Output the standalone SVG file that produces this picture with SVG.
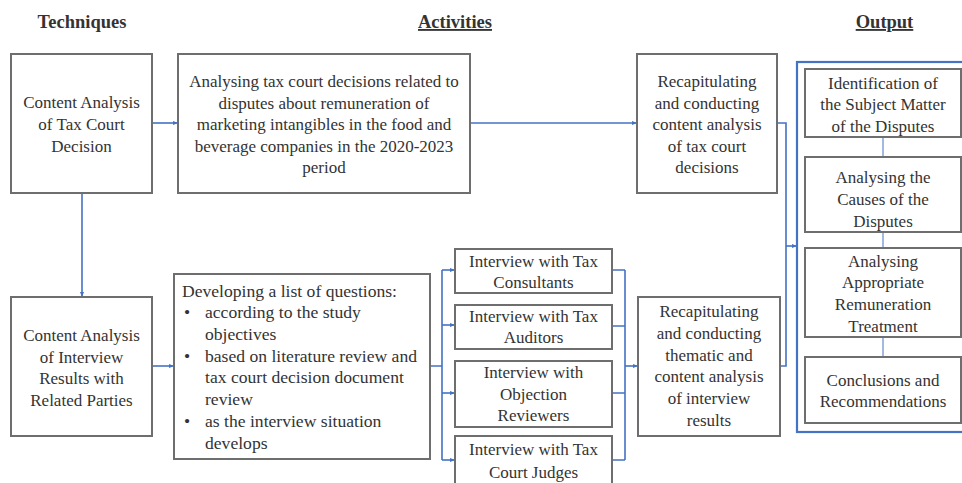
<svg xmlns="http://www.w3.org/2000/svg" width="962" height="483" viewBox="0 0 962 483" font-family="Liberation Serif">
<defs>
<marker id="ah" viewBox="0 0 10 10" refX="10" refY="5" markerWidth="5" markerHeight="5" orient="auto" markerUnits="userSpaceOnUse">
<path d="M0,1 L10,5 L0,9 z" fill="#4472c4"/>
</marker>
<style>
.box{fill:#fff;stroke:#6e6e6e;stroke-width:2}
.lbl{font-family:'Liberation Serif',serif;font-size:17px;fill:#333;text-anchor:middle}
.lft{font-family:'Liberation Serif',serif;font-size:17.6px;fill:#333}
.hdr{font-family:'Liberation Serif',serif;font-size:18.5px;font-weight:bold;fill:#333;text-anchor:middle}
.c{fill:none;stroke:#4472c4;stroke-width:1.6}
.ca{fill:none;stroke:#4472c4;stroke-width:1.6;marker-end:url(#ah)}
.thin{fill:none;stroke:#4472c4;stroke-width:1}
.cont{fill:none;stroke:#4472c4;stroke-width:2.2}
</style>
</defs>
<rect width="962" height="483" fill="#fff"/>

<g id="headers">
<text class="hdr" x="82" y="28">Techniques</text>
<text class="hdr" x="455" y="28" text-decoration="underline">Activities</text>
<text class="hdr" x="884.5" y="28" text-decoration="underline">Output</text>
</g>

<g id="connectors">
<path class="ca" d="M152,123 H178"/>
<path class="ca" d="M470,123 H637"/>
<path class="ca" d="M82,193 V297"/>
<path class="ca" d="M152,366 H174"/>
<path class="c" d="M430,366 H442 M442,270 V460"/>
<path class="ca" d="M442,270 H455"/>
<path class="ca" d="M442,325 H455"/>
<path class="ca" d="M442,393 H455"/>
<path class="ca" d="M442,460 H455"/>
<path class="c" d="M612,270 H625 M612,326 H625 M612,393 H625 M612,460 H625 M625,270 V460"/>
<path class="ca" d="M625,366 H638"/>
<path class="c" d="M777,123 H786 V366 H780"/>
<path class="ca" d="M786,246 H797"/>
<path class="thin" d="M883,137 V157 M883,232 V248 M883,337 V357"/>
</g>

<g id="output-container">
<rect class="cont" x="797" y="62" width="200" height="370"/>
</g>

<g id="n-tech1">
<rect class="box" x="11" y="54" width="141" height="139"/>
<text class="lbl" x="81.5" y="108">Content Analysis</text>
<text class="lbl" x="81.5" y="130">of Tax Court</text>
<text class="lbl" x="81.5" y="152">Decision</text>
</g>

<g id="n-act1">
<rect class="box" x="178" y="54" width="292" height="139"/>
<text class="lbl" x="324" y="87">Analysing tax court decisions related to</text>
<text class="lbl" x="324" y="108.5">disputes about remuneration of</text>
<text class="lbl" x="324" y="130">marketing intangibles in the food and</text>
<text class="lbl" x="324" y="151.5">beverage companies in the 2020-2023</text>
<text class="lbl" x="324" y="173">period</text>
</g>

<g id="n-recap1">
<rect class="box" x="637" y="54" width="140" height="139"/>
<text class="lbl" x="707" y="87">Recapitulating</text>
<text class="lbl" x="707" y="108.5">and conducting</text>
<text class="lbl" x="707" y="130">content analysis</text>
<text class="lbl" x="707" y="151.5">of tax court</text>
<text class="lbl" x="707" y="173">decisions</text>
</g>

<g id="n-tech2">
<rect class="box" x="11" y="297" width="141" height="139"/>
<text class="lbl" x="81.5" y="341">Content Analysis</text>
<text class="lbl" x="81.5" y="362.5">of Interview</text>
<text class="lbl" x="81.5" y="384">Results with</text>
<text class="lbl" x="81.5" y="406">Related Parties</text>
</g>

<g id="n-questions">
<rect class="box" x="174" y="274" width="256" height="185"/>
<text class="lft" x="182" y="297">Developing a list of questions:</text>
<text class="lft" x="184" y="318">•</text>
<text class="lft" x="205" y="318">according to the study</text>
<text class="lft" x="205" y="340">objectives</text>
<text class="lft" x="184" y="362">•</text>
<text class="lft" x="205" y="362">based on literature review and</text>
<text class="lft" x="205" y="383">tax court decision document</text>
<text class="lft" x="205" y="405">review</text>
<text class="lft" x="184" y="427">•</text>
<text class="lft" x="205" y="427">as the interview situation</text>
<text class="lft" x="205" y="449">develops</text>
</g>

<g id="n-int1">
<rect class="box" x="455" y="249" width="157" height="44"/>
<text class="lbl" x="533.5" y="267">Interview with Tax</text>
<text class="lbl" x="533.5" y="288">Consultants</text>
</g>

<g id="n-int2">
<rect class="box" x="455" y="305" width="157" height="44"/>
<text class="lbl" x="533.5" y="322">Interview with Tax</text>
<text class="lbl" x="533.5" y="343">Auditors</text>
</g>

<g id="n-int3">
<rect class="box" x="455" y="361" width="157" height="66"/>
<text class="lbl" x="533.5" y="378">Interview with</text>
<text class="lbl" x="533.5" y="399.5">Objection</text>
<text class="lbl" x="533.5" y="421">Reviewers</text>
</g>

<g id="n-int4">
<rect class="box" x="455" y="436" width="157" height="56"/>
<text class="lbl" x="533.5" y="455">Interview with Tax</text>
<text class="lbl" x="533.5" y="478">Court Judges</text>
</g>

<g id="n-recap2">
<rect class="box" x="638" y="297" width="142" height="139"/>
<text class="lbl" x="709" y="317">Recapitulating</text>
<text class="lbl" x="709" y="339">and conducting</text>
<text class="lbl" x="709" y="361">thematic and</text>
<text class="lbl" x="709" y="382">content analysis</text>
<text class="lbl" x="709" y="404">of interview</text>
<text class="lbl" x="709" y="426">results</text>
</g>

<g id="n-out1">
<rect class="box" x="805" y="69" width="156" height="68"/>
<text class="lbl" x="883" y="89">Identification of</text>
<text class="lbl" x="883" y="110">the Subject Matter</text>
<text class="lbl" x="883" y="132">of the Disputes</text>
</g>

<g id="n-out2">
<rect class="box" x="805" y="157" width="156" height="75"/>
<text class="lbl" x="883" y="183">Analysing the</text>
<text class="lbl" x="883" y="205">Causes of the</text>
<text class="lbl" x="883" y="227">Disputes</text>
</g>

<g id="n-out3">
<rect class="box" x="805" y="248" width="156" height="89"/>
<text class="lbl" x="883" y="267">Analysing</text>
<text class="lbl" x="883" y="288">Appropriate</text>
<text class="lbl" x="883" y="310">Remuneration</text>
<text class="lbl" x="883" y="332">Treatment</text>
</g>

<g id="n-out4">
<rect class="box" x="805" y="357" width="156" height="66"/>
<text class="lbl" x="883" y="386">Conclusions and</text>
<text class="lbl" x="883" y="407">Recommendations</text>
</g>
</svg>
